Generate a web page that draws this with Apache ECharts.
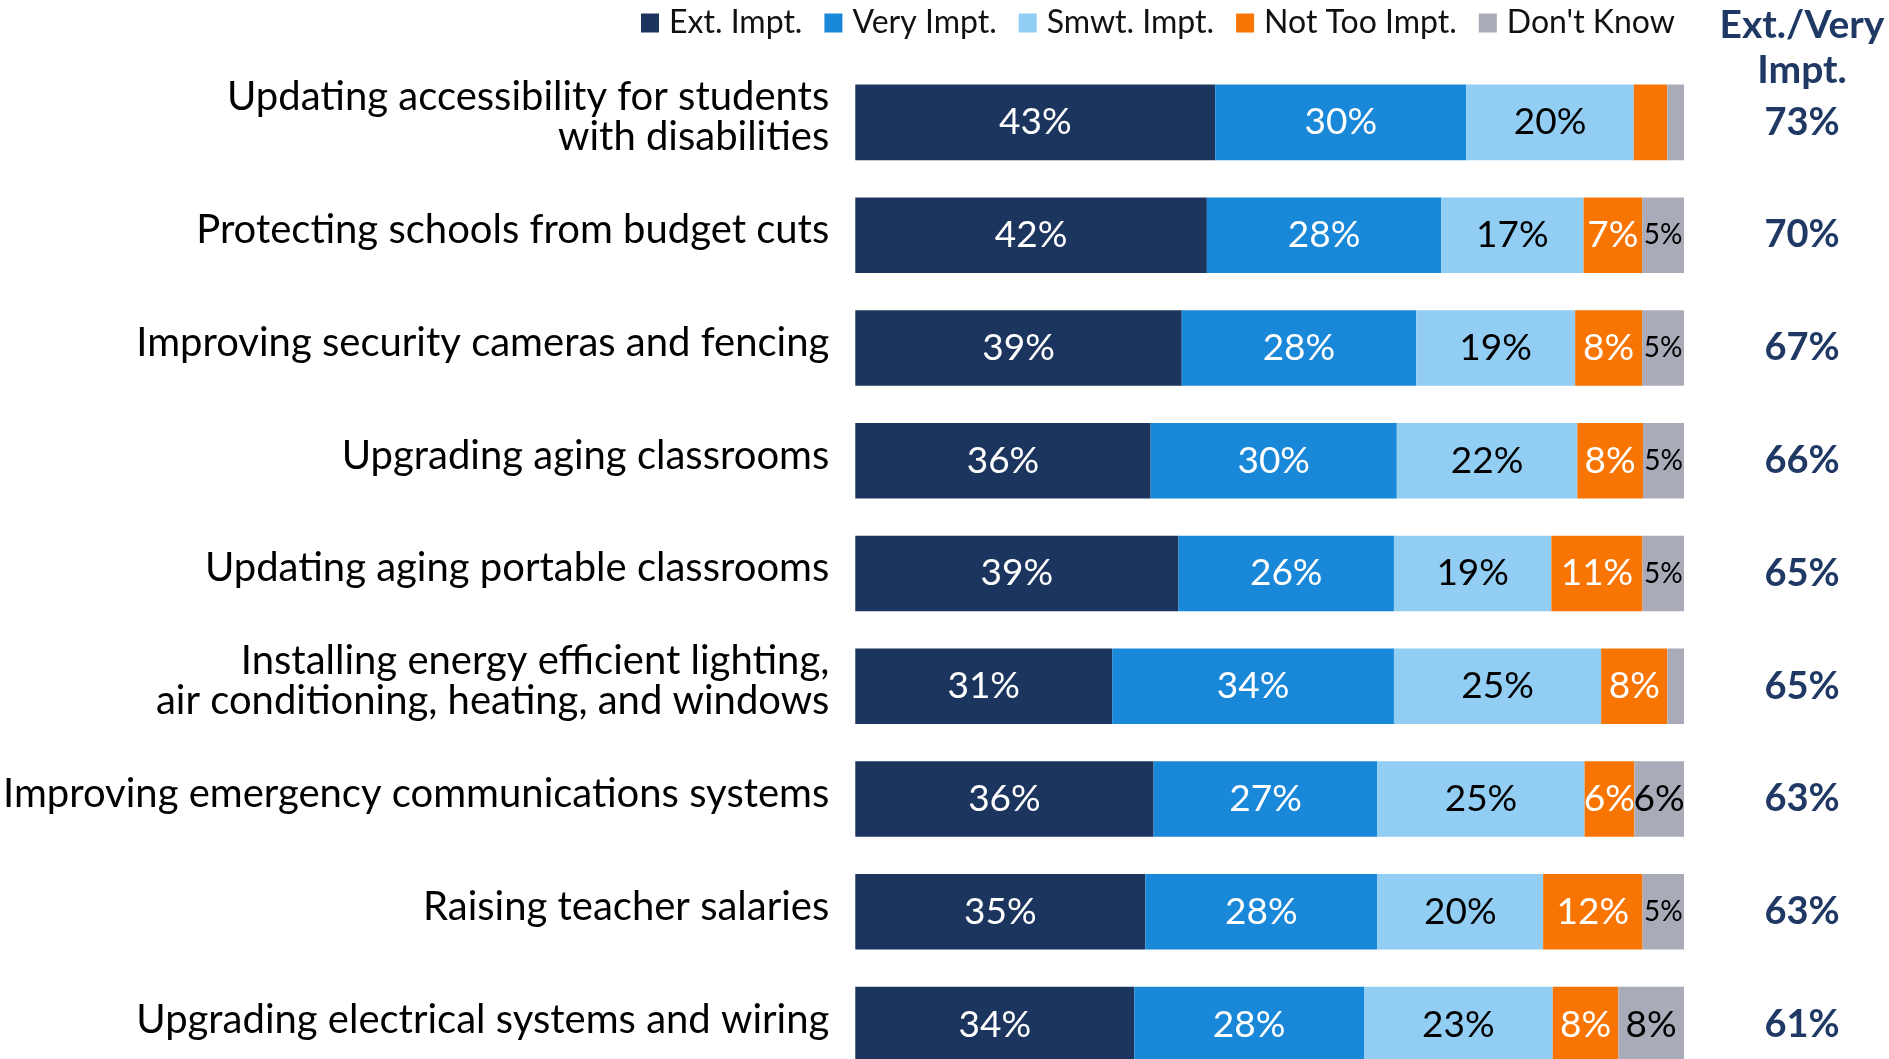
<!DOCTYPE html>
<html>
<head>
<meta charset="utf-8">
<script src="https://cdn.jsdelivr.net/npm/echarts@6/dist/echarts.min.js"></script>
<style>
  html, body { margin: 0; background: #fff; }
  #wrap { width: 1889px; height: 1059px; overflow: hidden; }
  #chart { width: 1889px; height: 1081px; }
</style>
</head>
<body>
<div id="wrap"><div id="chart"></div></div>
<script>
// survey items, top to bottom
const categories = [
  'Updating accessibility for students\nwith disabilities',
  'Protecting schools from budget cuts',
  'Improving security cameras and fencing',
  'Upgrading aging classrooms',
  'Updating aging portable classrooms',
  'Installing energy efficient lighting,\nair conditioning, heating, and windows',
  'Improving emergency communications systems',
  'Raising teacher salaries',
  'Upgrading electrical systems and wiring'
];
const extImpt = [43, 42, 39, 36, 39, 31, 36, 35, 34];
const veryImpt = [30, 28, 28, 30, 26, 34, 27, 28, 28];
const smwtImpt = [20, 17, 19, 22, 19, 25, 25, 20, 23];
const notTooImpt = [4, 7, 8, 8, 11, 8, 6, 12, 8];
const dontKnow = [2, 5, 5, 5, 5, 2, 6, 5, 8];
const extVeryTotals = ['73%', '70%', '67%', '66%', '65%', '65%', '63%', '63%', '61%'];

const FONT = 'Lato, "Open Sans", sans-serif';
const NAVY = '#1F3864';

const groups = [
  { name: 'Ext. Impt.', values: extImpt, color: '#1C355E', text: '#fff' },
  { name: 'Very Impt.', values: veryImpt, color: '#1A88D8', text: '#fff' },
  { name: 'Smwt. Impt.', values: smwtImpt, color: '#92CDF3', text: '#000' },
  { name: 'Not Too Impt.', values: notTooImpt, color: '#F97503', text: '#fff' },
  { name: "Don't Know", values: dontKnow, color: '#A9ABB8', text: '#000' }
];

// bars are drawn as 100% stacked, labels keep the raw numbers
const rowTotals = categories.map((c, i) => groups.reduce((s, g) => s + g.values[i], 0));

const series = groups.map((g, gi) => ({
  name: g.name,
  type: 'bar',
  stack: 'all',
  barCategoryGap: '33%',
  itemStyle: { color: g.color },
  emphasis: { disabled: true },
  data: g.values.map((v, i) => ({
    value: v / rowTotals[i] * 100,
    raw: v,
    label: {
      show: v >= 5,
      fontSize: gi === 4 && v <= 5 ? 28 : 37
    }
  })),
  label: {
    position: 'inside',
    color: g.text,
    fontFamily: FONT,
    formatter: p => p.data.raw + '%'
  }
}));

const chart = echarts.init(document.getElementById('chart'));
chart.setOption({
  animation: false,
  title: {
    text: 'Ext./Very\nImpt.',
    left: 1797,
    textAlign: 'center',
    top: -2,
    textStyle: { fontFamily: FONT, fontSize: 39, fontWeight: 'bold', color: NAVY, lineHeight: 45 }
  },
  legend: {
    top: 2,
    left: 636,
    icon: 'rect',
    itemWidth: 18,
    itemHeight: 19,
    itemGap: 22,
    textStyle: { fontFamily: FONT, fontSize: 32, color: '#111', padding: [0, 0, 0, 5] },
    data: groups.map(g => g.name)
  },
  grid: { left: 855, right: 205, top: 66, bottom: 0 },
  xAxis: { type: 'value', min: 0, max: 100, show: false },
  yAxis: [
    {
      type: 'category',
      inverse: true,
      data: categories,
      axisLine: { show: false },
      axisTick: { show: false },
      axisLabel: {
        margin: 26, fontFamily: FONT, fontSize: 40, color: '#000', lineHeight: 40,
        // small empty line under the text lifts it a little
        formatter: v => v + '\n{s| }',
        rich: { s: { fontSize: 8, lineHeight: 10 } }
      }
    },
    {
      type: 'category',
      inverse: true,
      position: 'right',
      data: extVeryTotals,
      axisLine: { show: false },
      axisTick: { show: false },
      axisLabel: { margin: 118, align: 'center', fontFamily: FONT, fontSize: 38, fontWeight: 'bold', color: NAVY }
    }
  ],
  series: series
});
</script>
</body>
</html>
